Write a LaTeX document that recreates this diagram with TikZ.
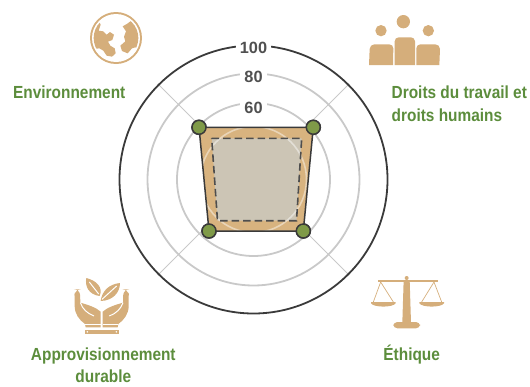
\documentclass[tikz,border=0pt]{standalone}
\usepackage{fontspec}
\setmainfont{Liberation Sans}
\newfontfamily\labfont{Liberation Sans}[FakeStretch=0.88]
\usetikzlibrary{calc}
\definecolor{tanc}{HTML}{D5AE7B}
\definecolor{tanfill}{HTML}{D8B37F}
\definecolor{innerfill}{HTML}{CCC5B5}
\definecolor{greentxt}{HTML}{5C8D3C}
\definecolor{dotgreen}{HTML}{7F9A48}
\definecolor{gridc}{HTML}{C9C9C9}
\definecolor{darkc}{HTML}{3A3A3A}
\definecolor{numc}{HTML}{505050}
\tikzset{
  gridcircle/.style={draw=gridc, line width=1.8pt},
  outercircle/.style={draw=darkc, line width=1.8pt},
  spoke/.style={draw=gridc, line width=1pt},
  numlabel/.style={fill=white, inner xsep=4pt, inner ysep=1pt, text=numc, font=\bfseries\fontsize{16.3}{18}\selectfont, anchor=base},
  catlabel/.style={text=greentxt, inner sep=0pt, font=\labfont\bfseries\fontsize{17.5}{21}\selectfont},
  vdot/.style={circle, fill=dotgreen, draw=darkc, line width=1.5pt, minimum size=14pt, inner sep=0pt},
  icon/.style={fill=tanc},
}
\begin{document}
\begin{tikzpicture}[x=1pt,y=-1pt]
\useasboundingbox (0,0) rectangle (530,386);
\coordinate (C) at (253.5,179.5);
% grid
\draw[gridcircle] (C) circle[radius=76.5];
\draw[gridcircle] (C) circle[radius=106];
\coordinate (s1) at ($(C)+(-94.8,-94.8)$);
\coordinate (s2) at ($(C)+(94.8,-94.8)$);
\coordinate (s3) at ($(C)+(94.8,94.8)$);
\coordinate (s4) at ($(C)+(-94.8,94.8)$);
\foreach \s in {s1,s2,s3,s4} \draw[spoke] (C) -- (\s);
\draw[outercircle] (C) circle[radius=134];
% data polygon
\node[vdot] (v1) at (199,127.3) {};
\node[vdot] (v2) at (313.3,127.3) {};
\node[vdot] (v3) at (303.3,231) {};
\node[vdot] (v4) at (209,231) {};
\coordinate (d1) at (211.7,138.3);
\coordinate (d2) at (301.7,138.3);
\coordinate (d3) at (296.5,220.7);
\coordinate (d4) at (217.5,220.7);
\fill[tanfill] (v1.center) -- (v2.center) -- (v3.center) -- (v4.center) -- cycle;
\fill[innerfill] (d1) -- (d2) -- (d3) -- (d4) -- cycle;
\draw[white, opacity=0.45, line width=1.6pt] (C) circle[radius=53];
\draw[darkc, line width=1.5pt, line join=round] (v1.center) -- (v2.center) -- (v3.center) -- (v4.center) -- cycle;
\draw[darkc!90, line width=1.6pt, dash pattern=on 7.5pt off 4pt] (d1) -- (d2) -- (d3) -- (d4) -- cycle;
\foreach \v in {v1,v2,v3,v4} \node[vdot] at (\v) {};
% scale labels
\node[numlabel] (n100) at (253.5,53.3) {100};
\node[numlabel] (n80) at (253.5,82.3) {80};
\node[numlabel] (n60) at (253.5,113.3) {60};
% category labels
\node[catlabel, anchor=base west] (lenv) at (13,98.3) {Environnement};
\node[catlabel, anchor=base west] (ldr1) at (391.5,98.3) {Droits du travail et};
\node[catlabel, anchor=base west] (ldr2) at (391.5,121.5) {droits humains};
\node[catlabel, anchor=base] (lapp1) at (103.3,360.7) {Approvisionnement};
\node[catlabel, anchor=base] (lapp2) at (103.3,382.7) {durable};
\node[catlabel, anchor=base] (leth) at (411.7,360.7) {Éthique};
% globe icon
\begin{scope}[shift={(86,8)}, scale=1/3]
  \fill[tanc] (90,90) circle[radius=78];
  \fill[white] (90,90) circle[radius=72];
  \begin{scope}
    \clip (90,90) circle[radius=67];
    \fill[tanc] (0,18) -- (32,28) -- (44,50) -- (38,68) -- (52,70) -- (62,80) -- (72,72) -- (84,80) -- (79,96) -- (66,101) -- (73,113) -- (86,121) -- (89,136) -- (78,146) -- (62,143) -- (52,128) -- (40,121) -- (0,126) -- cycle;
    \fill[tanc] (110,55) -- (124,47) -- (136,38) -- (152,44) -- (185,48) -- (185,120) -- (161,126) -- (148,118) -- (138,121) -- (125,136) -- (108,129) -- (103,113) -- (118,100) -- (114,86) -- (120,70) -- cycle;
  \end{scope}
\end{scope}
% people icon
\begin{scope}[shift={(360,0)}, scale=1/3]
  \fill[icon] (63,92) circle[radius=17];
  \fill[icon] (130,65) circle[radius=20];
  \fill[icon] (205,92) circle[radius=17];
  \fill[icon] (27,195) -- (29,147) arc[start angle=180, end angle=270, radius=14] -- (88,133) arc[start angle=270, end angle=360, radius=12] -- (99,195) -- cycle;
  \fill[icon] (104,195) -- (104,124) arc[start angle=180, end angle=270, radius=12] -- (153,112) arc[start angle=270, end angle=360, radius=12] -- (165,195) -- cycle;
  \fill[icon] (169,195) -- (169,145) arc[start angle=180, end angle=270, radius=12] -- (226,133) arc[start angle=270, end angle=360, radius=14] -- (238,195) -- cycle;
\end{scope}
% hands icon
\begin{scope}[shift={(0,270)}, scale=1/3]
  \fill[icon] (299,78) .. controls (266,74) and (254,48) .. (259,24) .. controls (290,32) and (310,52) .. (299,78) -- cycle;
  \draw[white, line width=1pt] (296,72) -- (268,36);
  \fill[icon] (302,93) .. controls (306,62) and (328,42) .. (360,39) .. controls (360,68) and (338,92) .. (302,93) -- cycle;
  \draw[white, line width=1pt] (306,88) -- (350,48);
  \foreach \m in {0,1} {
    \begin{scope}[xshift=\m*610, xscale=1-2*\m]
      \fill[icon] (224,68) [rounded corners=6] -- (225,58) -- (240,58) [sharp corners] -- (241,98) .. controls (262,104) and (288,112) .. (302,125) -- (302,172) -- (257,172) -- (255,162) .. controls (238,150) and (224,132) .. (224,108) -- cycle;
      \draw[white, line width=1pt] (241,98) .. controls (248,118) and (262,130) .. (282,138);
      \draw[white, line width=1.2pt] (255,163) -- (302,163);
    \end{scope}
  }
  \fill[icon] (254,179) rectangle (357,192);
  \fill[white] (262,185.5) circle[radius=2.5];
  \fill[white] (349,185.5) circle[radius=2.5];
\end{scope}
% scales icon
\begin{scope}[shift={(360,270)}, scale=1/3]
  \fill[icon] (55,30) rectangle (235,37);
  \fill[icon] (140,24) circle[radius=6];
  \fill[icon] (131,30) -- (149,30) -- (153,158) -- (127,158) -- cycle;
  \fill[icon, rounded corners=4] (100,156) rectangle (180,175);
  \draw[tanc, line width=0.7pt] (40,96) -- (62,36) -- (100,96);
  \draw[tanc, line width=0.7pt] (185,96) -- (222,36) -- (245,96);
  \fill[icon] (33,96) -- (107,96) -- (107,100) .. controls (98,113) and (42,113) .. (33,100) -- cycle;
  \fill[icon] (178,96) -- (252,96) -- (252,100) .. controls (243,113) and (187,113) .. (178,100) -- cycle;
\end{scope}
\end{tikzpicture}
\end{document}
